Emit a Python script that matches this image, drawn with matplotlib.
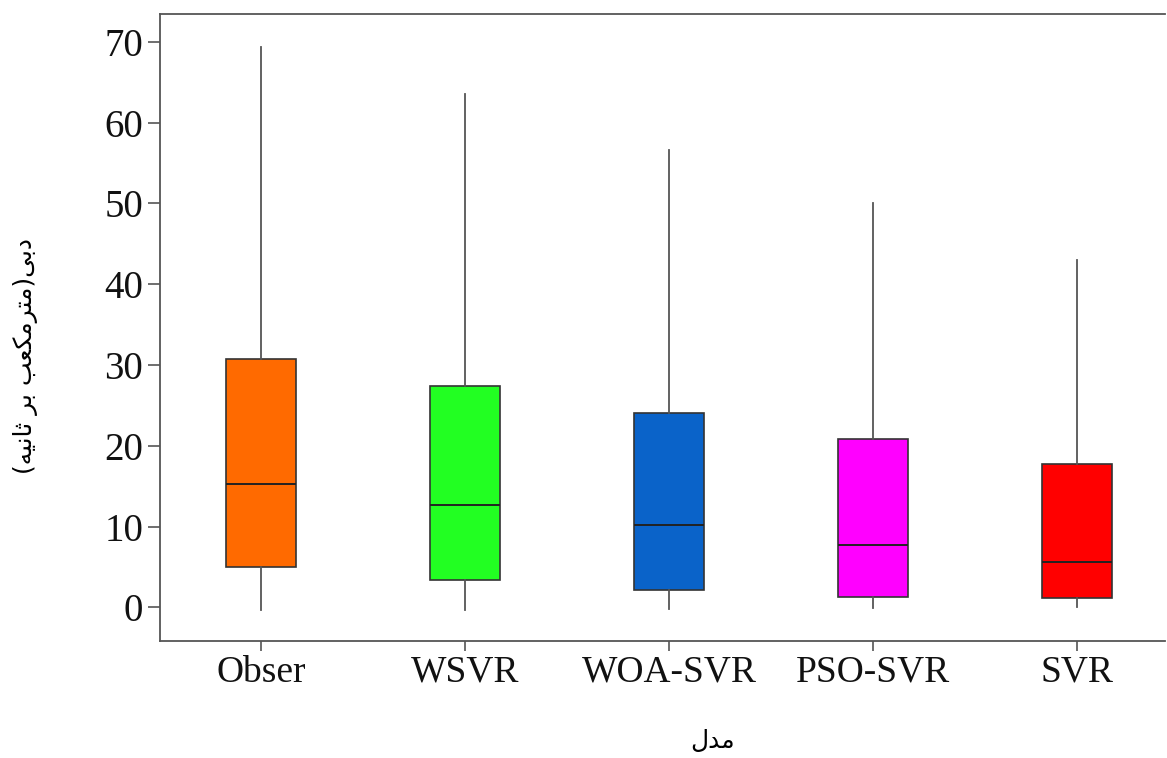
import matplotlib
matplotlib.use("Agg")
import matplotlib.pyplot as plt

# داده‌ها (خوانده شده از تصویر)
models = ["Obser", "WSVR", "WOA-SVR", "PSO-SVR", "SVR"]
whislo = [-0.3, -0.3, -0.2, -0.1, 0.0]
q1 = [5.0, 3.4, 2.1, 1.3, 1.1]
med = [15.3, 12.7, 10.2, 7.7, 5.6]
q3 = [30.7, 27.4, 24.1, 20.9, 17.8]
whishi = [69.4, 63.5, 56.6, 50.0, 43.0]
colors = ["#FF6A00", "#22FF22", "#0A63C9", "#FF00FF", "#FF0000"]
yticks = [0, 10, 20, 30, 40, 50, 60, 70]

# برچسب‌های فارسی با شکل‌های نمایشی (چون matplotlib حروف عربی را وصل نمی‌کند)
xlabel_fa = "\uFEDD\uFEAA\uFEE3"  # مدل
ylabel_fa = ("(" + "\uFEEA\uFEF4\uFEE7\uFE8E\uFE9B" + " " + "\uFEAE\uFE91" + " "
             + "\uFE90\uFECC\uFEDC\uFEE3\uFEAE\uFE98\uFEE3" + ")" + "\uFEF0\uFE91\uFEA9")

stats = []
for i, name in enumerate(models):
    stats.append({"label": name, "whislo": whislo[i], "q1": q1[i], "med": med[i],
                  "q3": q3[i], "whishi": whishi[i], "fliers": []})

fig = plt.figure(figsize=(11.67, 7.58), dpi=100)
ax = fig.add_axes([0.137, 0.154, 0.861, 0.828])

bp = ax.bxp(stats, positions=range(1, 6), widths=0.34, patch_artist=True,
            showcaps=False, showfliers=False,
            boxprops=dict(edgecolor="#333333", linewidth=1.2),
            whiskerprops=dict(color="#555555", linewidth=1.3),
            medianprops=dict(color="#222222", linewidth=1.4))
for patch, c in zip(bp["boxes"], colors):
    patch.set_facecolor(c)

ax.set_xlim(0.505, 5.43)
ax.set_ylim(-4.2, 73.5)
ax.set_yticks(yticks)
ax.set_xticks(range(1, 6))
ax.set_xticklabels(models)

for sp in ["left", "bottom", "top"]:
    ax.spines[sp].set_color("#555555")
    ax.spines[sp].set_linewidth(1.3)
ax.spines["right"].set_visible(False)

ax.tick_params(axis="y", length=9, width=1.2, color="#555555", pad=3)
ax.tick_params(axis="x", length=7, width=1.2, color="#555555", pad=3)
for lab in ax.get_yticklabels():
    lab.set_fontfamily("Liberation Serif")
    lab.set_fontsize(28)
    lab.set_color("#111111")
for lab in ax.get_xticklabels():
    lab.set_fontfamily("Liberation Serif")
    lab.set_fontsize(27)
    lab.set_color("#111111")

fig.text(0.611, 0.006, xlabel_fa, fontsize=18, family="DejaVu Sans", ha="center", va="bottom")
fig.text(0.022, 0.53, ylabel_fa, fontsize=18, family="DejaVu Sans", rotation=90,
         ha="center", va="center")

fig.savefig("out.png", dpi=100)
